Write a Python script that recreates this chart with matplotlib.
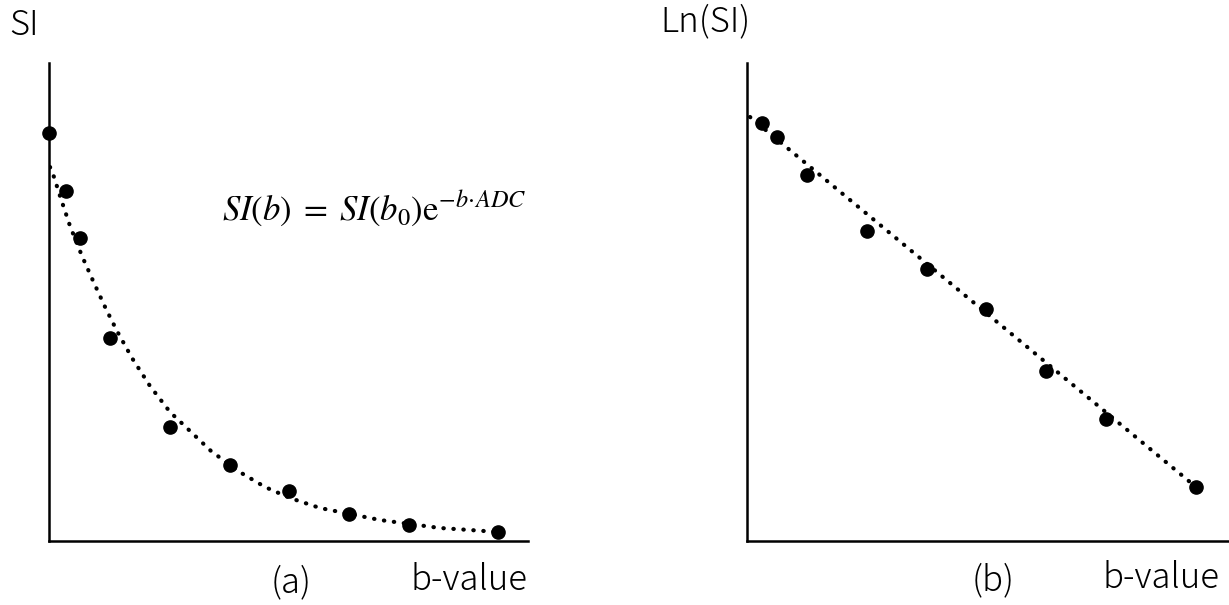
import matplotlib
matplotlib.use('Agg')
import matplotlib.pyplot as plt

plt.rcParams['font.family'] = ['Noto Sans CJK JP', 'DejaVu Sans']
plt.rcParams['mathtext.fontset'] = 'stix'

# (a) signal intensity vs b-value (units)
b_a = [0, 17, 31, 61, 121, 181, 240, 300, 360, 449]
si_a = [408, 350, 303, 203, 114, 76, 50, 27, 16, 9]
# dotted fit curve, read point by point
fit_b_a = [1, 5, 11, 21, 33, 45, 57, 68, 83, 101, 121, 141, 162, 189, 216,
           241, 271, 301, 331, 361, 391, 421, 449]
fit_si_a = [374, 364, 345, 315, 285, 258, 232, 210, 183, 155, 129, 110, 90,
            70, 54, 43, 33, 27, 21, 17, 13, 11, 9]

# (b) ln(SI) vs b-value
b_b = [15, 30, 60, 120, 180, 239, 299, 359, 449]
lnsi_b = [418, 404, 366, 310, 272, 232, 170, 122, 54]
fit_b_b = [3, 449]
fit_lnsi_b = [424, 54]

fig = plt.figure(figsize=(12.29, 6.05), dpi=100)
ax1 = fig.add_axes([49/1229, 64/605, 479/1229, 478/605])
ax2 = fig.add_axes([747/1229, 64/605, 482/1229, 478/605])

for ax in (ax1, ax2):
    ax.spines['top'].set_visible(False)
    ax.spines['right'].set_visible(False)
    ax.spines['left'].set_linewidth(1.8)
    ax.spines['bottom'].set_linewidth(1.8)
    ax.set_xticks([])
    ax.set_yticks([])
    ax.set_ylim(0, 478)
    ax.patch.set_alpha(0)

ax1.set_xlim(0, 479)
ax2.set_xlim(0, 482)

dot = dict(color='black', lw=3, linestyle=(0, (0.1, 2.3)), dash_capstyle='round')
ax1.plot(fit_b_a, fit_si_a, **dot)
ax1.plot(b_a, si_a, 'o', color='black', ms=9.5, clip_on=False)
ax2.plot(fit_b_b, fit_lnsi_b, **dot)
ax2.plot(b_b, lnsi_b, 'o', color='black', ms=9.5, clip_on=False)

txt = dict(fontsize=25, fontweight='light', va='center')
fig.text(9/1229, 1 - 25/605, 'SI', ha='left', **txt)
fig.text(751/1229, 1 - 21/605, 'Ln(SI)', ha='right', **txt)
fig.text(291/1229, 1 - 582/605, '(a)', ha='center', **txt)
fig.text(993/1229, 1 - 580/605, '(b)', ha='center', **txt)
fig.text(528/1229, 1 - 580/605, 'b-value', ha='right', **txt)
fig.text(1219/1229, 1 - 578/605, 'b-value', ha='right', **txt)
fig.text(222/1229, 1 - 208/605,
         r'$SI(b)\;=\;SI(b_0)\mathrm{e}^{-b\!\cdot\! ADC}$',
         fontsize=25, va='center', ha='left')

fig.savefig('out.png', dpi=100)
